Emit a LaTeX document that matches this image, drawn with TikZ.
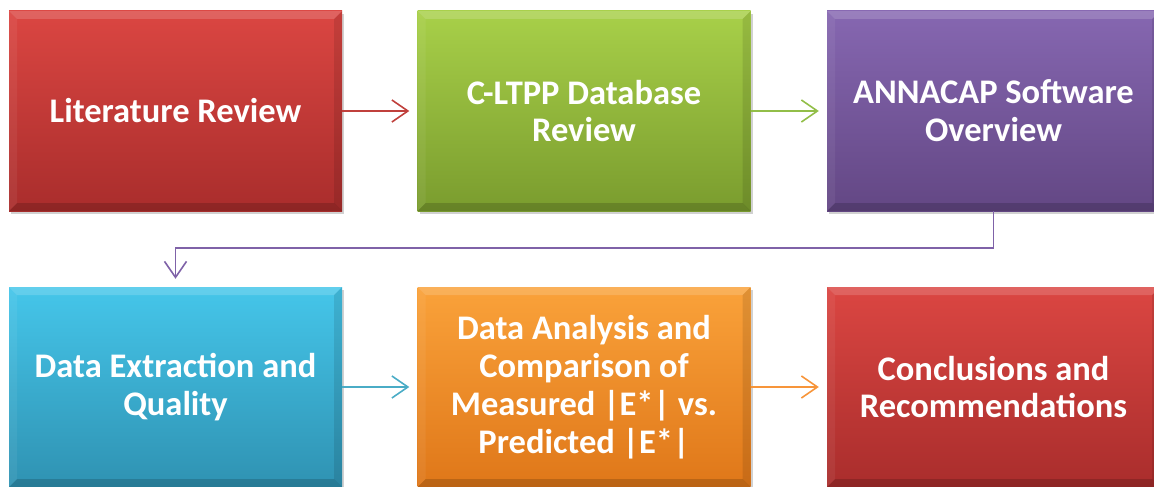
\documentclass[tikz,border=0pt]{standalone}
\usepackage{fontspec}
\setmainfont{Carlito}
\usetikzlibrary{arrows.meta,shadows,calc}
\definecolor{redT}{HTML}{DB4642}
\definecolor{redB}{HTML}{A92D2C}
\definecolor{grnT}{HTML}{A8D049}
\definecolor{grnB}{HTML}{7A9C2E}
\definecolor{purT}{HTML}{8667B1}
\definecolor{purB}{HTML}{634784}
\definecolor{bluT}{HTML}{45C6EA}
\definecolor{bluB}{HTML}{2F92B2}
\definecolor{orgT}{HTML}{FAA23A}
\definecolor{orgB}{HTML}{DF7719}
\definecolor{redL}{HTML}{C0403C}
\definecolor{grnL}{HTML}{92BE48}
\definecolor{purL}{HTML}{7F62A8}
\definecolor{bluL}{HTML}{4AACC6}
\definecolor{orgL}{HTML}{F7953A}
\tikzset{
  stepbox/.style={minimum width=333pt, minimum height=200pt, inner sep=0pt,
    text=white, align=center, font=\fontsize{34.5}{37.8}\selectfont\bfseries,
    shading=axis, shading angle=0,
    drop shadow={shadow xshift=2pt, shadow yshift=-3pt, opacity=.3, fill=black!60},
    path picture={
      \fill[white,opacity=.16] (path picture bounding box.north west) -- (path picture bounding box.north east) -- ++(-8,8) -- ($(path picture bounding box.north west)+(8,8)$) -- cycle;
      \fill[black,opacity=.16] (path picture bounding box.south west) -- (path picture bounding box.south east) -- ++(-8,-8) -- ($(path picture bounding box.south west)+(8,-8)$) -- cycle;
      \fill[white,opacity=.06] (path picture bounding box.north west) -- (path picture bounding box.south west) -- ++(8,-8) -- ($(path picture bounding box.north west)+(8,8)$) -- cycle;
      \fill[black,opacity=.10] (path picture bounding box.north east) -- (path picture bounding box.south east) -- ++(-8,-8) -- ($(path picture bounding box.north east)+(-8,8)$) -- cycle;
    }},
  arr/.style={line width=1.6pt, -{Straight Barb[length=16pt,width=22pt,line width=1.6pt]}}
}
\begin{document}
\begin{tikzpicture}[x=1pt,y=-1pt]
\useasboundingbox (0,0) rectangle (1154,487);
\clip (0,0) rectangle (1154,487);
\node[stepbox, top color=redT, bottom color=redB] (b1) at (175.5,111) {Literature Review};
\node[stepbox, top color=grnT, bottom color=grnB] (b2) at (584,111) {C-LTPP Database\\Review};
\node[stepbox, top color=purT, bottom color=purB] (b3) at (993.5,111) {ANNACAP Software\\Overview};
\node[stepbox, top color=bluT, bottom color=bluB] (b4) at (175.5,387) {Data Extraction and\\Quality};
\node[stepbox, top color=orgT, bottom color=orgB] (b5) at (584,387) {Data Analysis and\\Comparison of\\Measured |E*| vs.\\Predicted |E*|};
\node[stepbox, top color=redT, bottom color=redB] (b6) at (993.5,387) {Conclusions and\\Recommendations};
\draw[arr, redL] (b1.east) -- ([xshift=-8pt]b2.west);
\draw[arr, grnL] (b2.east) -- ([xshift=-8pt]b3.west);
\draw[arr, purL] (b3.south) -- ++(0,37) -| ([yshift=8pt]b4.north);
\draw[arr, bluL] (b4.east) -- ([xshift=-8pt]b5.west);
\draw[arr, orgL] (b5.east) -- ([xshift=-8pt]b6.west);
\end{tikzpicture}
\end{document}
